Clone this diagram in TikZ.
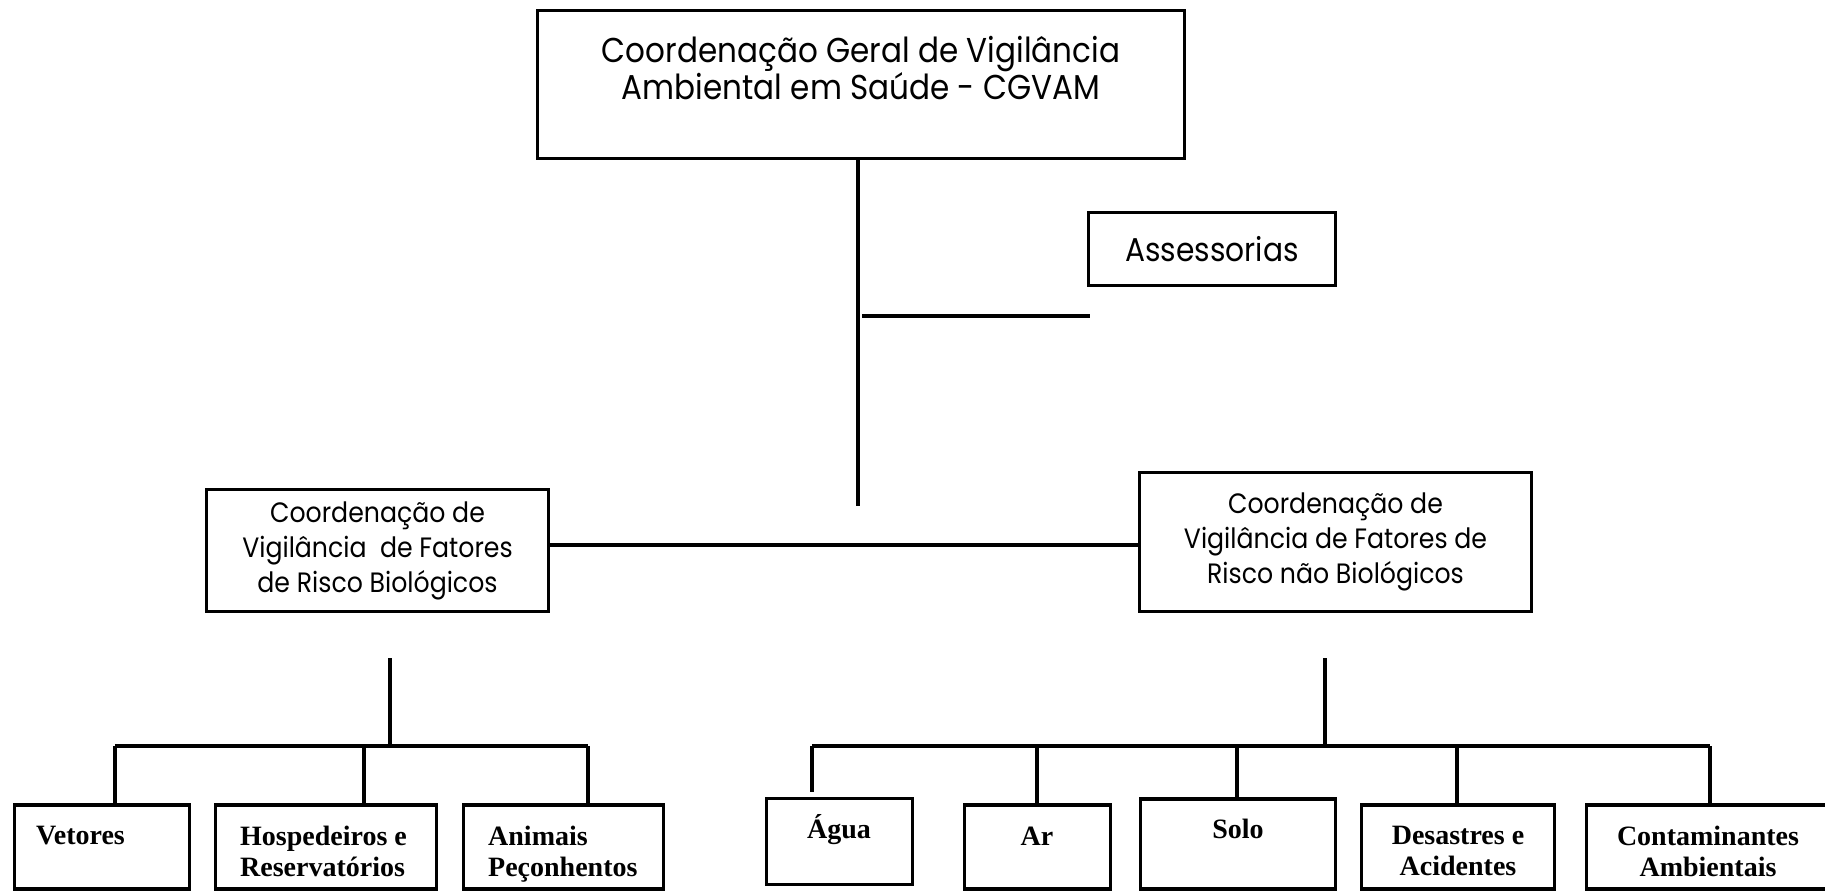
\documentclass[tikz,border=0pt]{standalone}
\usepackage{fontspec}
\setmainfont{Liberation Serif}
\newfontfamily\geo[FakeStretch=0.9]{Poppins}
\begin{document}
\begin{tikzpicture}[x=1pt,y=-1pt,
  box/.style={draw=black, line width=3.3pt, rectangle, inner sep=0pt},
  conn/.style={draw=black, line width=3.3pt},
  geotext/.style={inner sep=0pt, align=center, font=\geo\fontsize{34.5}{35}\selectfont},
  midfont/.style={align=center, font=\geo\fontsize{28}{35}\selectfont},
  leaftext/.style={inner sep=0pt, font=\bfseries\fontsize{28}{31}\selectfont},
]
\useasboundingbox (0,0) rectangle (1825,891);
\fill[white] (0,0) rectangle (1825,891);

% boxes
\node[box, minimum width=647, minimum height=148] (top) at (861,84.5) {};
\node[geotext, anchor=north] (toptext) at (861,36) {Coordenação Geral de Vigilância\\Ambiental em Saúde - CGVAM};

\node[box, minimum width=247, minimum height=73, font=\geo\fontsize{33}{35}\selectfont] (ass) at (1212,249) {Assessorias};

\node[box, minimum width=342, minimum height=122, midfont] (bio) at (377.5,550.5) {Coordenação de\\Vigilância\ \ de Fatores\\de Risco Biológicos};
\node[box, minimum width=392, minimum height=139, midfont] (nbio) at (1335.5,542) {Coordenação de\\Vigilância de Fatores de\\Risco não Biológicos};

% leaf boxes
\node[box, minimum width=175, minimum height=84] (vet) at (102,847) {};
\node[box, minimum width=221, minimum height=84] (hos) at (326,847) {};
\node[box, minimum width=200, minimum height=84] (ani) at (563.5,847) {};
\node[box, minimum width=146, minimum height=86] (agu) at (839.5,841.5) {};
\node[box, minimum width=146, minimum height=84] (ar) at (1037.5,847) {};
\node[box, minimum width=195, minimum height=90] (sol) at (1238,844) {};
\node[box, minimum width=193, minimum height=84] (des) at (1458,847) {};
\node[box, minimum width=243, minimum height=84] (con) at (1708,847) {};

\node[leaftext, anchor=north west] (vett) at (36,826) {Vetores};
\node[leaftext, anchor=north west, align=left] (host) at (240,826) {Hospedeiros e\\Reservatórios};
\node[leaftext, anchor=north west, align=left] (anit) at (488,826) {Animais\\Peçonhentos};
\node[leaftext, anchor=base] (agut) at (839,838) {Água};
\node[leaftext, anchor=base] (art) at (1037,845) {Ar};
\node[leaftext, anchor=base] (solt) at (1238,838) {Solo};
\node[leaftext, anchor=north, align=center] (dest) at (1458,826) {Desastres e\\Acidentes};
\node[leaftext, anchor=north, align=center] (cont) at (1708,826) {Contaminantes\\Ambientais};

% connectors
\coordinate (stemend) at (858,506);
\coordinate (midbar) at (858,545);
\coordinate (assl) at (862,316);
\coordinate (assr) at (1090,316);
\draw[conn] (top.south -| stemend) -- (stemend);
\draw[conn] (assl) -- (assr);
\draw[conn] (bio.east |- midbar) -- (nbio.west |- midbar);

% left subtree
\coordinate (lstem) at (390,658);
\coordinate (lbar) at (390,746);
\coordinate (l1) at (115,746);
\coordinate (l2) at (364,746);
\coordinate (l3) at (588,746);
\draw[conn] (lstem) -- (lbar);
\draw[conn] (l1) -- (l3);
\draw[conn] (l1) -- (l1 |- vet.north);
\draw[conn] (l2) -- (l2 |- hos.north);
\draw[conn] (l3) -- (l3 |- ani.north);

% right subtree
\coordinate (rstem) at (1325,658);
\coordinate (rbar) at (1325,746);
\coordinate (r1) at (812,746);
\coordinate (r2) at (1037,746);
\coordinate (r3) at (1237,746);
\coordinate (r4) at (1457,746);
\coordinate (r5) at (1710,746);
\draw[conn] (rstem) -- (rbar);
\draw[conn] (r1) -- (r5);
\draw[conn] (r1) -- ([yshift=5pt]r1 |- agu.north);
\draw[conn] (r2) -- (r2 |- ar.north);
\draw[conn] (r3) -- (r3 |- sol.north);
\draw[conn] (r4) -- (r4 |- des.north);
\draw[conn] (r5) -- (r5 |- con.north);
\end{tikzpicture}
\end{document}
